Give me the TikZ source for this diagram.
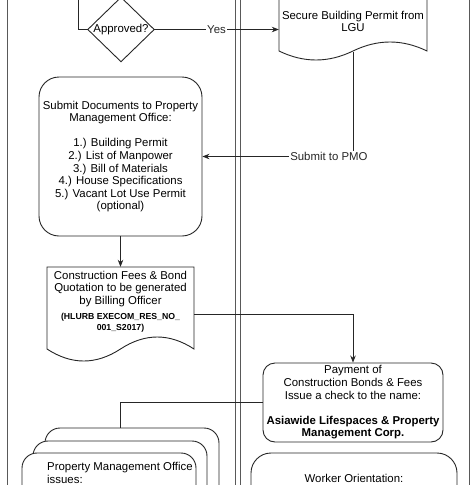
\documentclass[tikz,border=0pt]{standalone}
\usepackage{fontspec}
\setmainfont{Liberation Sans}
\usetikzlibrary{arrows.meta,positioning,calc}

\tikzset{
  line/.style={black!85, line width=0.9pt},
  arr/.style={line, -{Stealth[length=7pt,width=5.5pt]}},
  lane/.style={black!65, line width=0.9pt},
  box/.style={draw=black!85, fill=white, line width=0.9pt, rounded corners=#1},
  txt/.style={font=\fontsize{11.4}{12.6}\selectfont, align=center, inner sep=0pt},
  small/.style={font=\fontsize{8.7}{11}\selectfont\bfseries, align=center, inner sep=0pt},
  lbl/.style={txt, fill=white, inner sep=1.5pt}
}

\begin{document}
\begin{tikzpicture}[x=1pt, y=-1pt]
\useasboundingbox (0,0) rectangle (473,485);

% === Swimlane borders ===
\draw[lane] (7,-5) -- (7,490);
\draw[lane] (235,-5) -- (235,490);
\draw[lane] (240,-5) -- (240,490);
\draw[lane] (469,-5) -- (469,490);

% === LEFT: Approval ===
\node[txt, minimum width=66pt, minimum height=64pt] (ap) at (121,29.5) {Approved?};
\draw[line] (ap.north) -- (ap.east) -- (ap.south) -- (ap.west) -- cycle;
\coordinate (in) at (78,-5);
\draw[line] (in) |- (ap.west);

% === RIGHT: Building permit (document) ===
\node[minimum width=148pt, minimum height=63pt, inner sep=0pt] (sec) at (353,29.5) {};
\draw[line, fill=white] (279,-5) -- (427,-5) -- (427,51)
  .. controls (402.3,39) and (377.7,39) .. (353,51)
  .. controls (328.3,63) and (303.7,63) .. (279,51) -- cycle;
\node[txt] (secT) at (353,21.5) {Secure Building Permit from\\LGU};
\coordinate (secB) at (353,52);

% === LEFT: Documents to PMO ===
\node[box=20pt, txt, minimum width=163pt, minimum height=159pt] (sub) at (120.5,156.5)
  {Submit Documents to Property\\Management Office:\\[12.6pt]1.) Building Permit\\2.) List of Manpower\\3.) Bill of Materials\\4.) House Specifications\\5.) Vacant Lot Use Permit\\(optional)};

% === LEFT: Quotation (document) ===
\node[minimum width=147pt, minimum height=94pt, inner sep=0pt] (con) at (120.5,314) {};
\draw[line, fill=white] (47,267) -- (194,267) -- (194,349)
  .. controls (169.5,333) and (145,333) .. (120.5,349)
  .. controls (96,365) and (71.5,365) .. (47,349) -- cycle;
\node[txt] (conT) at (120.5,289) {Construction Fees \& Bond\\Quotation to be generated\\by Billing Officer};
\node[small] (conR) at (120.5,322.5) {(HLURB EXECOM\_RES\_NO\_\\001\_S2017)};

% === RIGHT: Payment ===
\node[box=12pt, txt, minimum width=180pt, minimum height=79pt] (pay) at (353,402.5)
  {Payment of\\Construction Bonds \& Fees\\Issue a check to the name:\\[12.6pt]\textbf{Asiawide Lifespaces \& Property}\\\textbf{Management Corp.}};

% === LEFT: PMO issues (stack) ===
\node[minimum width=197pt, minimum height=184pt, inner sep=0pt] (stk) at (120.5,520) {};
\draw[box=15pt] (45,428) rectangle (219,600);
\draw[box=15pt] (33,441) rectangle (207,600);
\draw[box=15pt] (22,453) rectangle (196,600);
\node[txt, align=left, anchor=north west] (stkT) at (47,462) {Property Management Office\\issues:};

% === RIGHT: Worker orientation ===
\node[box=20pt, minimum width=206pt, minimum height=150pt] (wrk) at (354,528) {};
\node[txt] (wrkT) at (354,478) {Worker Orientation:};

% === Connectors ===
\draw[arr] (ap.east) -- node[lbl] {Yes} (sec.west);
\draw[arr] (secB) |- node[lbl, pos=0.58] {Submit to PMO} (sub.east);
\draw[arr] (sub.south) -- (con.north);
\draw[arr] (con.east) -| (pay.north);
\draw[line] (pay.west) -| (stk.north);

\end{tikzpicture}
\end{document}
